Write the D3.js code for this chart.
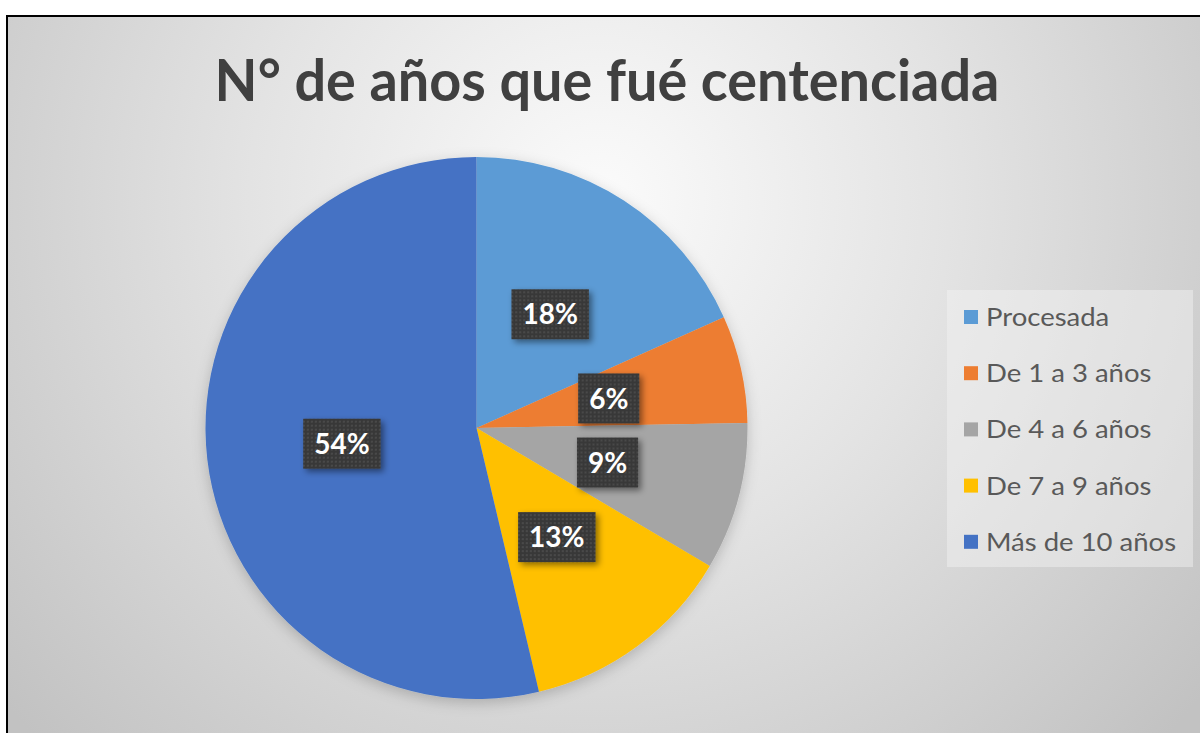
<!DOCTYPE html>
<html>
<head>
<meta charset="utf-8">
<script src="https://cdn.jsdelivr.net/npm/d3@7"></script>
<style>
body { margin:0; background:#fff; }
text { font-family: Lato, "Open Sans", sans-serif; }
</style>
</head>
<body>
<div id="chart"></div>
<script>
var title = "N° de años que fué centenciada";
var categories = ["Procesada", "De 1 a 3 años", "De 4 a 6 años", "De 7 a 9 años", "Más de 10 años"];
var values = [18.3, 6.4, 8.8, 12.8, 53.7];
var colors = ["#5B9BD5", "#ED7D31", "#A5A5A5", "#FFC000", "#4472C4"];

var W = 1200, H = 733;
var cx = 476.5, cy = 428, radius = 271;

var svg = d3.select("#chart")
            .append("svg")
            .attr("width", W)
            .attr("height", H);

var defs = svg.append("defs");

// background: light in the middle, grey to the edges
var bg = defs.append("radialGradient")
             .attr("id", "bg")
             .attr("gradientUnits", "userSpaceOnUse")
             .attr("cx", 600).attr("cy", 200).attr("r", 780);
bg.append("stop").attr("offset", "0%").attr("stop-color", "#fbfbfb");
bg.append("stop").attr("offset", "45%").attr("stop-color", "#e3e3e3");
bg.append("stop").attr("offset", "100%").attr("stop-color", "#c2c2c2");

// dotted texture for the data labels
var pat = defs.append("pattern")
              .attr("id", "dots")
              .attr("patternUnits", "userSpaceOnUse")
              .attr("width", 4).attr("height", 4);
pat.append("rect").attr("width", 4).attr("height", 4).attr("fill", "#393939");
pat.append("circle").attr("cx", 2).attr("cy", 2).attr("r", 0.8).attr("fill", "#5c5c5c");

var shLabel = defs.append("filter").attr("id", "shLabel")
                  .attr("x", "-30%").attr("y", "-30%").attr("width", "160%").attr("height", "160%");
shLabel.append("feDropShadow")
       .attr("dx", 3).attr("dy", 3).attr("stdDeviation", 3)
       .attr("flood-color", "#000").attr("flood-opacity", 0.45);

var shPie = defs.append("filter").attr("id", "shPie")
                .attr("x", "-20%").attr("y", "-20%").attr("width", "140%").attr("height", "140%");
shPie.append("feDropShadow")
     .attr("dx", 0).attr("dy", 4).attr("stdDeviation", 7)
     .attr("flood-color", "#000").attr("flood-opacity", 0.2);

// chart area with border
svg.append("rect")
   .attr("x", 7).attr("y", 16)
   .attr("width", W).attr("height", H)
   .attr("fill", "url(#bg)")
   .attr("stroke", "#000")
   .attr("stroke-width", 2);

// title (narrowed a bit to fit the original width)
var t = svg.append("text")
           .attr("text-anchor", "middle")
           .attr("font-weight", "bold")
           .attr("font-size", 57)
           .attr("fill", "#404040")
           .text(title);
var tw = t.node().getComputedTextLength();
t.attr("transform", "translate(607,101) scale(" + (785 / tw) + ",1)");

// pie
var pie = d3.pie().sort(null).value(function (d) { return d; });
var arc = d3.arc().innerRadius(0).outerRadius(radius);
var arcs = pie(values);

var g = svg.append("g").attr("transform", "translate(" + cx + "," + cy + ")");

g.append("g")
 .attr("filter", "url(#shPie)")
 .selectAll("path")
 .data(arcs)
 .enter()
 .append("path")
 .attr("d", arc)
 .attr("fill", function (d, i) { return colors[i]; });

// data labels
var total = d3.sum(values);
var lab = g.selectAll(".lab")
           .data(arcs)
           .enter()
           .append("g")
           .classed("lab", true)
           .attr("transform", function (d) { return "translate(" + arc.centroid(d) + ")"; });

lab.each(function (d) {
    var el = d3.select(this);
    var box = el.append("rect").attr("fill", "url(#dots)").attr("filter", "url(#shLabel)");
    var txt = el.append("text")
                .attr("text-anchor", "middle")
                .attr("dy", "0.36em")
                .attr("font-weight", "bold")
                .attr("font-size", 28)
                .attr("fill", "#fff")
                .text(Math.round(d.value / total * 100) + "%");
    var w = txt.node().getComputedTextLength() + 22;
    box.attr("x", -w / 2).attr("y", -25).attr("width", w).attr("height", 50);
});

// legend
var lg = svg.append("g");
lg.append("rect")
  .attr("x", 947).attr("y", 290)
  .attr("width", 246).attr("height", 277)
  .attr("fill", "#f4f4f4")
  .attr("fill-opacity", 0.45);

var item = lg.selectAll(".item")
             .data(categories)
             .enter()
             .append("g")
             .classed("item", true)
             .attr("transform", function (d, i) { return "translate(964," + (317 + i * 56.2) + ")"; });

item.append("rect")
    .attr("x", 0).attr("y", -7)
    .attr("width", 14).attr("height", 14)
    .attr("fill", function (d, i) { return colors[i]; });

item.append("text")
    .attr("transform", "translate(22,0) scale(1.1,1)")
    .attr("dy", "0.36em")
    .attr("font-size", 25)
    .attr("fill", "#595959")
    .text(function (d) { return d; });
</script>
</body>
</html>
